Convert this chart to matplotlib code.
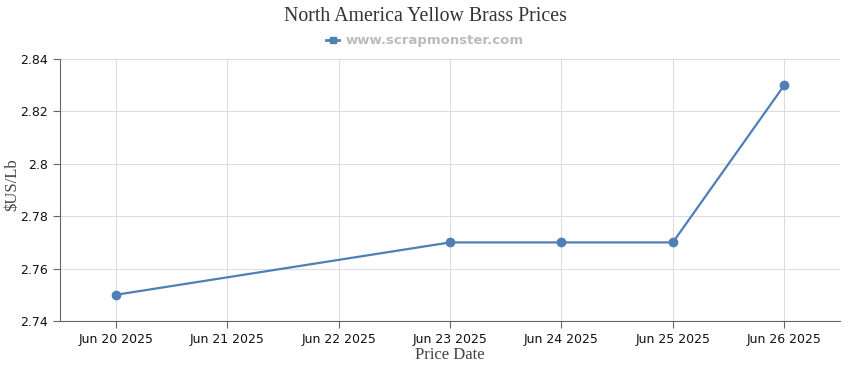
import datetime as dt
import matplotlib
matplotlib.use('Agg')
import matplotlib.pyplot as plt
import matplotlib.dates as mdates
from matplotlib.lines import Line2D

dates = ['2025-06-20', '2025-06-23', '2025-06-24', '2025-06-25', '2025-06-26']
prices = [2.75, 2.77, 2.77, 2.77, 2.83]
tick_days = ['2025-06-20', '2025-06-21', '2025-06-22', '2025-06-23',
             '2025-06-24', '2025-06-25', '2025-06-26']

x = [dt.datetime.strptime(d, '%Y-%m-%d') for d in dates]
ticks = [dt.datetime.strptime(d, '%Y-%m-%d') for d in tick_days]

fig = plt.figure(figsize=(8.5, 3.7), dpi=100)
ax = fig.add_axes([0.0706, 0.1324, 0.9176, 0.708])

col = '#4e7fb5'
ax.plot(x, prices, color=col, lw=1.6, marker='o', ms=6, zorder=3)

half = dt.timedelta(hours=12)
ax.set_xlim(ticks[0] - half, ticks[-1] + half)
ax.set_ylim(2.74, 2.84)
ax.set_xticks(ticks)
ax.xaxis.set_major_formatter(mdates.DateFormatter('%b %d %Y'))
ax.set_yticks([2.74, 2.76, 2.78, 2.8, 2.82, 2.84])
ax.set_yticklabels(['2.74', '2.76', '2.78', '2.8', '2.82', '2.84'])

ax.grid(True, color='#dddddd', lw=0.8)
ax.set_axisbelow(True)
for s in ['top', 'right']:
    ax.spines[s].set_visible(False)
for s in ['left', 'bottom']:
    ax.spines[s].set_color('#666666')
ax.tick_params(colors='#666666', labelcolor='#111111', labelsize=9, length=5)

ax.set_xlabel('Price Date', family='Liberation Serif', fontsize=12, color='#444444', labelpad=1)
fig.text(12 / 850, 0.5, '$US/Lb', rotation=90, ha='center', va='center',
         family='Liberation Serif', fontsize=12, color='#444444')

fig.text(0.5, 0.955, 'North America Yellow Brass Prices', ha='center', va='center',
         family='Liberation Serif', fontsize=14.3, color='#333333')
handle = Line2D([], [], color=col, lw=2, marker='s', ms=5)
leg = fig.legend([handle], ['www.scrapmonster.com'], loc='center',
                 bbox_to_anchor=(0.5, 0.89), frameon=False,
                 fontsize=9.5, handlelength=1.0, handletextpad=0.5)
for t in leg.get_texts():
    t.set_color('#bbbbbb')
    t.set_fontweight('bold')

fig.savefig('out.png', dpi=100)
